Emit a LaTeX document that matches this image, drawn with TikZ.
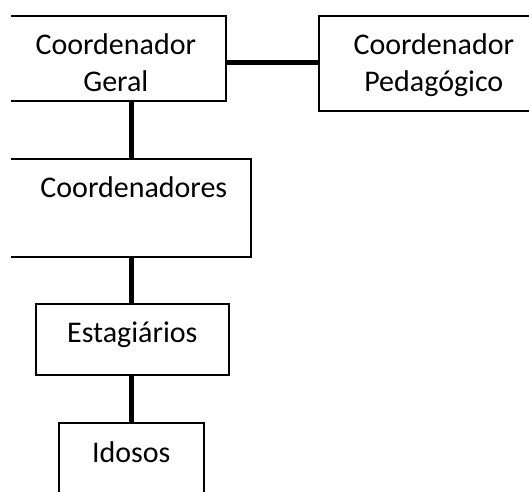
\documentclass[tikz,border=0pt]{standalone}
\usepackage{fontspec}
\setmainfont{Carlito}
\begin{document}
\begin{tikzpicture}[x=1pt,y=-1pt,
  box/.style={draw=black, line width=1.6pt, inner sep=0pt, anchor=north west,
    font=\fontsize{30}{37}\selectfont, align=center},
  link/.style={line width=5pt, black}]
\useasboundingbox (0,0) rectangle (529,491);
\coordinate (spine) at (131,0);
\coordinate (hy) at (0,62);
\begin{scope}
\clip (11,0) rectangle (529,491);
\node[box, minimum width=220pt, text height=76pt, text depth=9pt] (g) at (5,15) {Coordenador\\Geral};
\node[box, minimum width=230pt, text height=76pt, text depth=19pt] (p) at (318,15) {Coordenador\\Pedagógico};
\node[box, minimum width=245pt, text height=39pt, text depth=59pt] (c) at (5,158) {\hspace*{11pt}Coordenadores};
\node[box, minimum width=193pt, text height=39pt, text depth=32pt] (e) at (35,303) {Estagiários};
\node[box, minimum width=145pt, text height=40pt, text depth=60pt] (i) at (58,422) {Idosos};
\end{scope}
\draw[link] (g.east |- hy) -- (p.west |- hy);
\draw[link] (g.south -| spine) -- (c.north -| spine);
\draw[link] (c.south -| spine) -- (e.north -| spine);
\draw[link] (e.south -| spine) -- (i.north -| spine);
\end{tikzpicture}
\end{document}
